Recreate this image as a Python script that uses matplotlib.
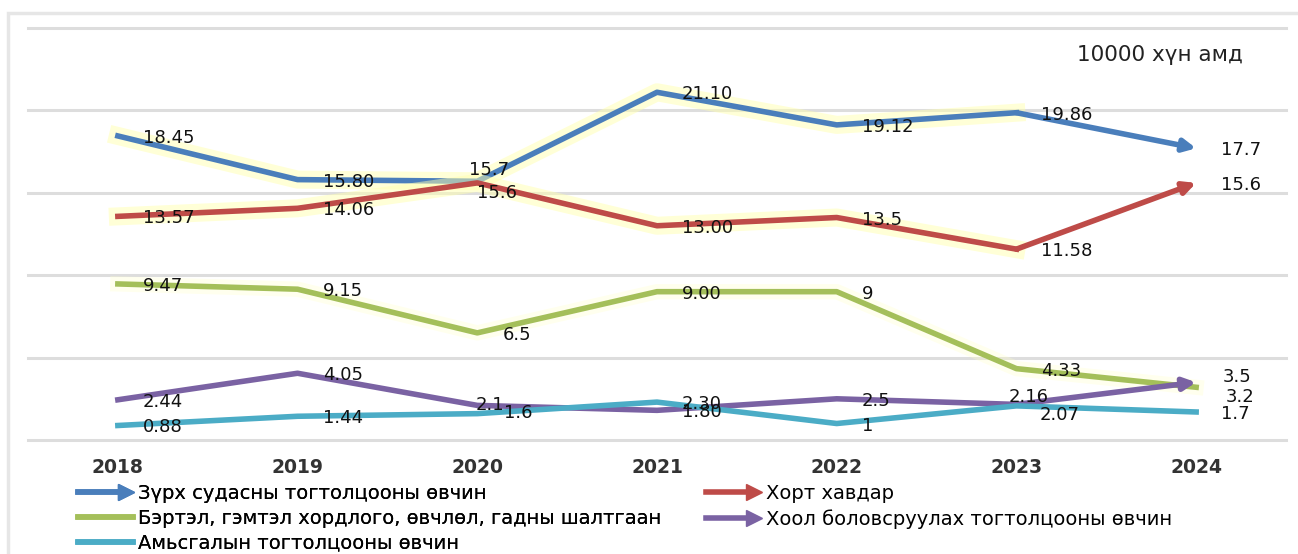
import matplotlib
matplotlib.use('Agg')
from matplotlib import pyplot as plt
from matplotlib.lines import Line2D
from matplotlib.legend_handler import HandlerBase
from matplotlib.patches import Rectangle
import matplotlib.patheffects as pe

years = ['2018', '2019', '2020', '2021', '2022', '2023', '2024']

heart = [18.45, 15.80, 15.7, 21.10, 19.12, 19.86, 17.7]
cancer = [13.57, 14.06, 15.6, 13.00, 13.5, 11.58, 15.6]
injury = [9.47, 9.15, 6.5, 9.00, 9, 4.33, 3.2]
digest = [2.44, 4.05, 2.1, 1.80, 2.5, 2.16, 3.5]
resp = [0.88, 1.44, 1.6, 2.30, 1, 2.07, 1.7]

heart_lbl = ['18.45', '15.80', '15.7', '21.10', '19.12', '19.86', '17.7']
cancer_lbl = ['13.57', '14.06', '15.6', '13.00', '13.5', '11.58', '15.6']
injury_lbl = ['9.47', '9.15', '6.5', '9.00', '9', '4.33', '3.2']
digest_lbl = ['2.44', '4.05', '2.1', '1.80', '2.5', '2.16', '3.5']
resp_lbl = ['0.88', '1.44', '1.6', '2.30', '1', '2.07', '1.7']

names = ['Зүрх судасны тогтолцооны өвчин',
         'Хорт хавдар',
         'Бэртэл, гэмтэл хордлого, өвчлөл, гадны шалтгаан',
         'Хоол боловсруулах тогтолцооны өвчин',
         'Амьсгалын тогтолцооны өвчин']

colors = ['#4a7ebb', '#be4b48', '#a4bf5a', '#7a62a3', '#4bacc6']

# label offsets in pixels (dx, dy), text left-aligned, centered vertically
off_default = (25, -2)
offsets = {
    0: {2: (-8, 11)},
    1: {2: (0, -10)},
    3: {2: (-2, 0), 5: (-8, 7), 6: (27, 5)},
    4: {2: (27, 1), 5: (23, -9)},
    2: {6: (30, -10)},
}

plt.rcParams['font.family'] = ['DejaVu Sans']

fig = plt.figure(figsize=(12.98, 5.54), dpi=100)
fig.patches.append(Rectangle((8 / 1298, -0.1), 1.2, (554 - 13) / 554 + 0.1,
                             transform=fig.transFigure, fill=False,
                             edgecolor='#e6e6e6', lw=2.5))
ax = fig.add_axes([28 / 1298, 114 / 554, 1258 / 1298, 412 / 554])

x = list(range(len(years)))
series = [heart, cancer, injury, digest, resp]
labels = [heart_lbl, cancer_lbl, injury_lbl, digest_lbl, resp_lbl]
arrows = [True, True, False, True, False]
glow_strong = [pe.Stroke(linewidth=13, foreground='#ffffb0', alpha=0.5), pe.Normal()]
glow_weak = [pe.Stroke(linewidth=11, foreground='#ffffc8', alpha=0.3), pe.Normal()]

for i, (s, c) in enumerate(zip(series, colors)):
    effects = glow_strong if i < 2 else (glow_weak if i == 2 else None)
    if arrows[i]:
        ax.plot(x[:-1], s[:-1], color=c, lw=4, solid_joinstyle='round',
                path_effects=effects, zorder=3)
        ax.annotate('', xy=(x[-1], s[-1]), xytext=(x[-2], s[-2]),
                    arrowprops=dict(arrowstyle='-|>', color=c, lw=4,
                                    mutation_scale=18, shrinkA=0, shrinkB=0),
                    zorder=3)
    else:
        ax.plot(x, s, color=c, lw=4, solid_joinstyle='round',
                path_effects=effects, zorder=3)

for i, (s, lb) in enumerate(zip(series, labels)):
    for j in range(len(x)):
        dx, dy = offsets.get(i, {}).get(j, off_default)
        ax.annotate(lb[j], xy=(x[j], s[j]), xytext=(dx, dy),
                    textcoords='offset pixels', ha='left', va='center',
                    fontsize=13, color='#111111', zorder=5)

ax.set_xlim(-0.5, len(years) - 0.5)
ax.set_ylim(0, 25)
ax.set_yticks([0, 5, 10, 15, 20, 25])
ax.yaxis.grid(True, color='#dddddd', lw=2.2)
for gl in ax.get_ygridlines():
    gl.set_clip_on(False)
ax.set_axisbelow(True)
ax.tick_params(axis='y', left=False, labelleft=False)
ax.tick_params(axis='x', length=0, pad=13)
ax.set_xticks(x)
ax.set_xticklabels(years, fontsize=13.5, fontweight='bold', color='#333333')
for sp in ax.spines.values():
    sp.set_visible(False)

ax.text(0.966, 0.934, '10000 хүн амд', transform=ax.transAxes, ha='right',
        va='center', fontsize=15.5, color='#222222')


class ArrowHandler(HandlerBase):
    def __init__(self, arrow):
        super().__init__()
        self.arrow = arrow

    def create_artists(self, legend, orig_handle, xdescent, ydescent,
                       width, height, fontsize, trans):
        y = height / 2 - ydescent
        c = orig_handle.get_color()
        end = width - xdescent - (8 if self.arrow else 0)
        ln = Line2D([-xdescent, end], [y, y], color=c, lw=4, transform=trans)
        arts = [ln]
        if self.arrow:
            hd = Line2D([width - xdescent - 5], [y], marker='>', ms=11,
                        color=c, transform=trans, lw=0)
            arts.append(hd)
        return arts


handles = [Line2D([], [], color=c) for c in colors]
col1 = [0, 2, 4]
col2 = [1, 3]
leg_kw = dict(loc='upper left', frameon=False, fontsize=14, handlelength=2.85,
              handletextpad=0.25, labelspacing=0.3, borderpad=0,
              borderaxespad=0)
leg1 = fig.legend([handles[i] for i in col1], [names[i] for i in col1],
                  handler_map={handles[i]: ArrowHandler(arrows[i]) for i in col1},
                  bbox_to_anchor=(78 / 1298, 1 - 484 / 554), **leg_kw)
fig.add_artist(leg1)
fig.legend([handles[i] for i in col2], [names[i] for i in col2],
           handler_map={handles[i]: ArrowHandler(arrows[i]) for i in col2},
           bbox_to_anchor=(706 / 1298, 1 - 484 / 554), **leg_kw)

fig.savefig('out.png', dpi=100)
